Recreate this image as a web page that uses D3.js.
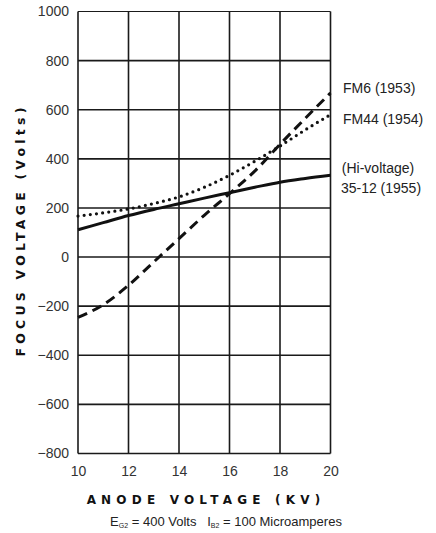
<!DOCTYPE html>
<html><head><meta charset="utf-8">
<script src="https://cdn.jsdelivr.net/npm/d3@7"></script>
<style>
body{margin:0;background:#fff;}
svg{display:block;}
</style></head>
<body>
<svg id="c" width="436" height="533"></svg>
<script>
const kv = [10, 11, 12, 13, 14, 15, 16, 17, 18, 19, 20];
const fm6 = [-246, -194, -115, -20, 75, 170, 258, 350, 459, 565, 668];
const fm44 = [167, 180, 196, 218, 245, 284, 333, 390, 452, 518, 580];
const hv3512 = [111, 140, 169, 194, 217, 240, 262, 284, 305, 320, 333];
const xTicks = [10, 12, 14, 16, 18, 20];
const yTicks = [1000, 800, 600, 400, 200, 0, -200, -400, -600, -800];
const seriesNames = [["FM6 (1953)"], ["FM44 (1954)"], ["(Hi-voltage)", "35-12 (1955)"]];

const svg = d3.select("#c");
const x = d3.scaleLinear().domain([10, 20]).range([78, 330.5]);
const y = d3.scaleLinear().domain([-800, 1000]).range([453.5, 11.5]);
const ink = "#1a1a1a";
const numFont = "'Liberation Sans Narrow', 'Liberation Sans', sans-serif";

// grid
const g = svg.append("g");
g.selectAll("line.v").data(xTicks).join("line")
  .attr("x1", d => x(d)).attr("x2", d => x(d))
  .attr("y1", y(1000)).attr("y2", y(-800))
  .attr("stroke", ink).attr("stroke-width", 1.6);
g.selectAll("line.h").data(yTicks).join("line")
  .attr("x1", x(10)).attr("x2", x(20))
  .attr("y1", d => y(d)).attr("y2", d => y(d))
  .attr("stroke", ink).attr("stroke-width", d => d === 1000 ? 1.2 : 1.6);

// axes labels via d3 axes (no lines)
const yAxis = svg.append("g").attr("transform", `translate(${x(10)},0)`)
  .call(d3.axisLeft(y).tickValues(yTicks).tickSize(0).tickPadding(9)
    .tickFormat(d => d < 0 ? "\u2212" + Math.abs(d) : String(d)));
yAxis.select(".domain").remove();
yAxis.selectAll("text").attr("font-family", numFont).attr("font-size", 14).attr("fill", "#333");

const xAxis = svg.append("g").attr("transform", `translate(0,${y(-800)})`)
  .call(d3.axisBottom(x).tickValues(xTicks).tickSize(0).tickPadding(13));
xAxis.select(".domain").remove();
xAxis.selectAll("text").attr("font-family", numFont).attr("font-size", 14).attr("fill", "#333");

// curves
const line = d3.line().x((d, i) => x(kv[i])).y(d => y(d)).curve(d3.curveMonotoneX);
svg.append("path").attr("d", line(hv3512)).attr("fill", "none")
  .attr("stroke", "#111").attr("stroke-width", 3);
svg.append("path").attr("d", line(fm44)).attr("fill", "none")
  .attr("stroke", "#111").attr("stroke-width", 3.2).attr("stroke-linecap", "round")
  .attr("stroke-dasharray", "0,6.2");
svg.append("path").attr("d", line(fm6)).attr("fill", "none")
  .attr("stroke", "#111").attr("stroke-width", 3).attr("stroke-dasharray", "10,6");

// series labels
const lab = svg.append("g").attr("font-family", numFont).attr("font-size", 14).attr("fill", "#222");
lab.append("text").attr("x", 343).attr("y", 93).text(seriesNames[0][0]);
lab.append("text").attr("x", 343).attr("y", 124).text(seriesNames[1][0]);
lab.append("text").attr("x", 378).attr("y", 173).attr("text-anchor", "middle").text(seriesNames[2][0]);
lab.append("text").attr("x", 381).attr("y", 193).attr("text-anchor", "middle").text(seriesNames[2][1]);

// axis titles
svg.append("text").attr("transform", "translate(25,230) rotate(-90)")
  .attr("text-anchor", "middle").attr("font-family", "'DejaVu Sans', sans-serif")
  .attr("font-weight", "bold").attr("font-size", 12.5).attr("letter-spacing", 4.2)
  .attr("fill", "#111").text("FOCUS VOLTAGE (Volts)");
svg.append("text").attr("x", 206).attr("y", 504)
  .attr("text-anchor", "middle").attr("font-family", "'DejaVu Sans', sans-serif")
  .attr("font-weight", "bold").attr("font-size", 12).attr("letter-spacing", 5.2)
  .attr("fill", "#111").text("ANODE VOLTAGE (KV)");

const sub = svg.append("text").attr("x", 226).attr("y", 526)
  .attr("text-anchor", "middle").attr("font-family", numFont)
  .style("white-space", "pre")
  .attr("font-size", 13).attr("fill", "#222");
sub.append("tspan").text("E");
sub.append("tspan").attr("font-size", 7).attr("dy", 2).text("G2");
sub.append("tspan").attr("dy", -2).text(" = 400 Volts   I");
sub.append("tspan").attr("font-size", 7).attr("dy", 2).text("B2");
sub.append("tspan").attr("dy", -2).text(" = 100 Microamperes");
</script>
</body></html>
